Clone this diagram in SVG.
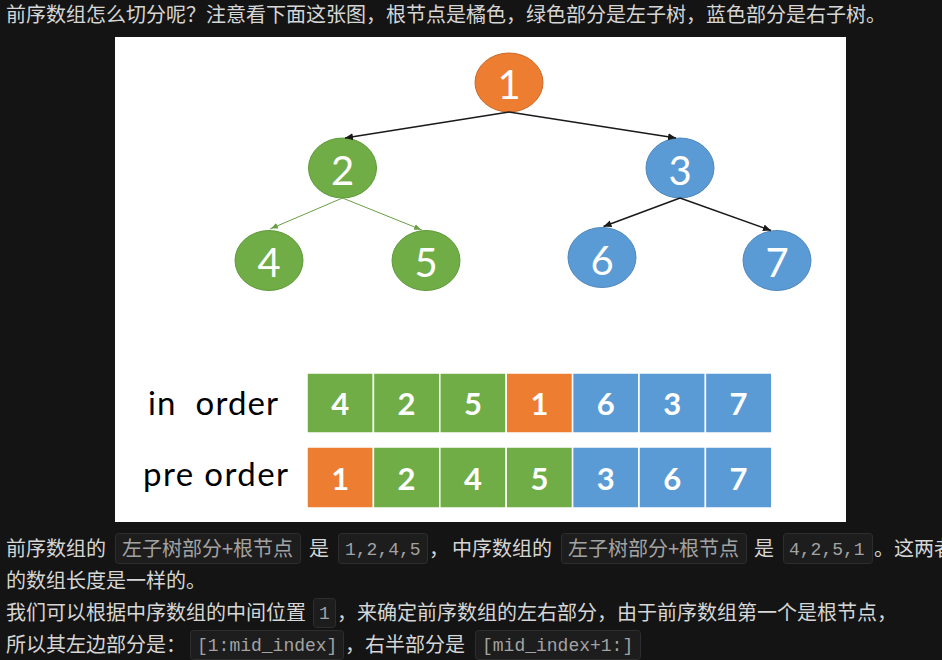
<svg xmlns="http://www.w3.org/2000/svg" width="942" height="660" viewBox="0 0 942 660">
<style>
.cjk{font-family:"Noto Sans CJK SC","Noto Sans",sans-serif;font-size:20px;fill:#d6d6d6}
.code{font-family:"Noto Sans CJK SC","Noto Sans",sans-serif;font-size:20px;fill:#a3a3a3}
.mono{font-family:"Liberation Mono","DejaVu Sans Mono",monospace;font-size:18px;fill:#a3a3a3}
.cbox{fill:#1d1d1d;stroke:#2e2e2e;stroke-width:1}
.nd{font-family:Lato,"Liberation Sans",sans-serif;font-size:40px;fill:#ffffff;text-anchor:middle}
.cd{font-family:Lato,"Liberation Sans",sans-serif;font-size:31px;font-weight:bold;fill:#ffffff;text-anchor:middle}
.lbl{font-family:Lato,"Liberation Sans",sans-serif;font-size:33px;fill:#000000}
.g{fill:#70AD47}.o{fill:#ED7D31}.b{fill:#5B9BD5}
.gn{fill:#70AD47;stroke:#5f9a3a;stroke-width:1}
.on{fill:#ED7D31;stroke:#c9682a;stroke-width:1}
.bn{fill:#5B9BD5;stroke:#4f88bd;stroke-width:1}
.cell{stroke:#ffffff;stroke-width:1.5}
.edge{fill:none;stroke:#1a1a1a;stroke-width:1.6}
.gedge{fill:none;stroke:#6a9f46;stroke-width:1}
</style>
<defs>
<marker id="ak" markerUnits="userSpaceOnUse" markerWidth="9" markerHeight="8" refX="8" refY="3.5" orient="auto"><path d="M0,0 L8,3.5 L0,7 z" fill="#1a1a1a"/></marker>
<marker id="ag" markerUnits="userSpaceOnUse" markerWidth="9" markerHeight="8" refX="8" refY="3.5" orient="auto"><path d="M0,0.5 L7,3.5 L0,6.5 z" fill="#6a9f46"/></marker>
</defs>
<rect x="0" y="0" width="942" height="660" fill="#141414"/>
<g id="title"><text class="cjk" x="6" y="22">前序数组怎么切分呢？注意看下面这张图，根节点是橘色，绿色部分是左子树，蓝色部分是右子树。</text></g>
<rect id="figure" x="115" y="37" width="731" height="485" fill="#ffffff"/>
<g id="node1"><ellipse class="on" cx="509" cy="82.5" rx="34" ry="29.5"/><text class="nd" x="509" y="99">1</text></g>
<g id="node2"><ellipse class="gn" cx="342.5" cy="168" rx="34" ry="30"/><text class="nd" x="342.5" y="185">2</text></g>
<g id="node3"><ellipse class="bn" cx="680" cy="168" rx="34" ry="30"/><text class="nd" x="680" y="185">3</text></g>
<g id="node4"><ellipse class="gn" cx="269" cy="260.5" rx="34" ry="30"/><text class="nd" x="269" y="277">4</text></g>
<g id="node5"><ellipse class="gn" cx="426" cy="260.5" rx="34" ry="30"/><text class="nd" x="426" y="277">5</text></g>
<g id="node6"><ellipse class="bn" cx="602" cy="257.5" rx="34" ry="30"/><text class="nd" x="602" y="275">6</text></g>
<g id="node7"><ellipse class="bn" cx="777" cy="260.5" rx="34" ry="30"/><text class="nd" x="777" y="277">7</text></g>
<g id="connectors">
<path class="edge" d="M509,112 L345,138" marker-end="url(#ak)"/>
<path class="edge" d="M509,112 L676,138" marker-end="url(#ak)"/>
<path class="gedge" d="M342.5,198 L270,229" marker-end="url(#ag)"/>
<path class="gedge" d="M342.5,198 L422,230" marker-end="url(#ag)"/>
<path class="edge" d="M680,198 L603.5,226.5" marker-end="url(#ak)"/>
<path class="edge" d="M680,198 L771,230.5" marker-end="url(#ak)"/>
</g>
<g id="inorder">
<text class="lbl" x="148" y="415" xml:space="preserve" textLength="130">in  order</text>
<rect class="cell g" x="307" y="373" width="66.4" height="60"/><text class="cd" x="340.2" y="415">4</text>
<rect class="cell g" x="373.4" y="373" width="66.4" height="60"/><text class="cd" x="406.6" y="415">2</text>
<rect class="cell g" x="439.8" y="373" width="66.4" height="60"/><text class="cd" x="473" y="415">5</text>
<rect class="cell o" x="506.2" y="373" width="66.4" height="60"/><text class="cd" x="539.4" y="415">1</text>
<rect class="cell b" x="572.6" y="373" width="66.4" height="60"/><text class="cd" x="605.8" y="415">6</text>
<rect class="cell b" x="639" y="373" width="66.4" height="60"/><text class="cd" x="672.2" y="415">3</text>
<rect class="cell b" x="705.4" y="373" width="66.4" height="60"/><text class="cd" x="738.6" y="415">7</text>
</g>
<g id="preorder">
<text class="lbl" x="143" y="486" textLength="145">pre order</text>
<rect class="cell o" x="307" y="447" width="66.4" height="61"/><text class="cd" x="340.2" y="490">1</text>
<rect class="cell g" x="373.4" y="447" width="66.4" height="61"/><text class="cd" x="406.6" y="490">2</text>
<rect class="cell g" x="439.8" y="447" width="66.4" height="61"/><text class="cd" x="473" y="490">4</text>
<rect class="cell g" x="506.2" y="447" width="66.4" height="61"/><text class="cd" x="539.4" y="490">5</text>
<rect class="cell b" x="572.6" y="447" width="66.4" height="61"/><text class="cd" x="605.8" y="490">3</text>
<rect class="cell b" x="639" y="447" width="66.4" height="61"/><text class="cd" x="672.2" y="490">6</text>
<rect class="cell b" x="705.4" y="447" width="66.4" height="61"/><text class="cd" x="738.6" y="490">7</text>
</g>
<g id="line1">
<text class="cjk" x="6" y="556">前序数组的</text>
<rect class="cbox" x="115.5" y="533.5" width="185" height="30" rx="3"/>
<text class="code" x="122" y="556">左子树部分+根节点</text>
<text class="cjk" x="309" y="556">是</text>
<rect class="cbox" x="338.5" y="533.5" width="89" height="30" rx="3"/>
<text class="mono" x="345" y="555">1,2,4,5</text>
<text class="cjk" x="429" y="556">，</text>
<text class="cjk" x="452" y="556">中序数组的</text>
<rect class="cbox" x="561.5" y="533.5" width="185" height="30" rx="3"/>
<text class="code" x="568" y="556">左子树部分+根节点</text>
<text class="cjk" x="754" y="556">是</text>
<rect class="cbox" x="783.5" y="533.5" width="89" height="30" rx="3"/>
<text class="mono" x="789" y="555">4,2,5,1</text>
<text class="cjk" x="874" y="556">。这两者</text>
</g>
<g id="line2"><text class="cjk" x="6" y="588">的数组长度是一样的。</text></g>
<g id="line3">
<text class="cjk" x="6" y="620">我们可以根据中序数组的中间位置</text>
<rect class="cbox" x="313.5" y="598.5" width="22" height="29" rx="3"/>
<text class="mono" x="319" y="619">1</text>
<text class="cjk" x="337" y="620">，来确定前序数组的左右部分，由于前序数组第一个是根节点，</text>
</g>
<g id="line4">
<text class="cjk" x="6" y="652">所以其左边部分是：</text>
<rect class="cbox" x="190.5" y="630.5" width="153" height="29" rx="3"/>
<text class="mono" x="197" y="651">[1:mid_index]</text>
<text class="cjk" x="345" y="652">，右半部分是</text>
<rect class="cbox" x="475.5" y="630.5" width="165" height="29" rx="3"/>
<text class="mono" x="482" y="651">[mid_index+1:]</text>
</g>
</svg>
